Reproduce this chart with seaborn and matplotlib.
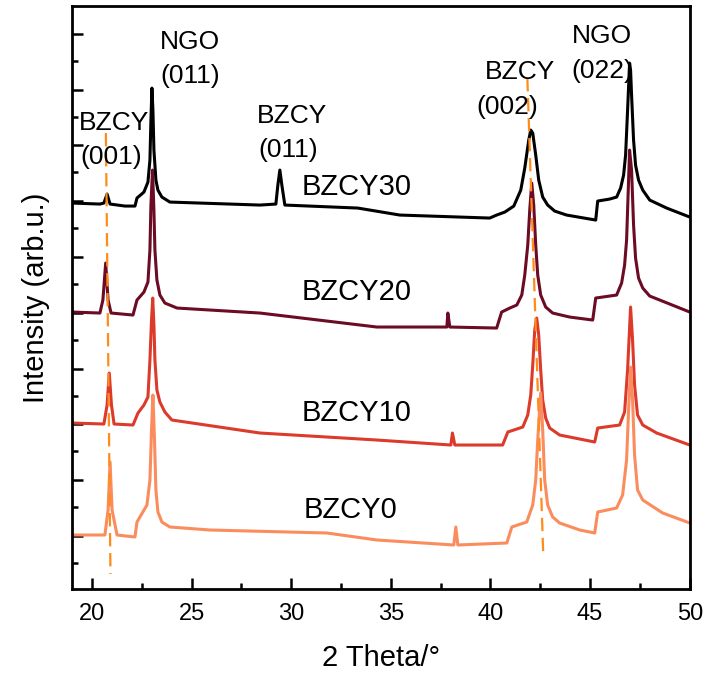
import pandas as pd
import matplotlib
matplotlib.use('Agg')
import matplotlib.pyplot as plt
import seaborn as sns
import numpy as np

# 2 theta (deg) / intensity (arb.u., already offset)
TT_30 = [19.0, 20.40, 20.60, 20.76, 20.91, 21.66, 22.16, 22.26, 22.61, 22.81,
         22.91, 22.96, 23.01, 23.06, 23.11, 23.21, 23.31, 23.51, 23.91, 28.43,
         29.23, 29.33, 29.43, 29.53, 29.68, 33.34, 35.45, 39.96, 40.31, 40.72,
         41.17, 41.52, 41.72, 41.92, 42.02, 42.12, 42.27, 42.42, 42.62, 42.87,
         43.22, 43.82, 45.28, 45.38, 45.98, 46.33, 46.53, 46.68, 46.78, 46.88,
         46.98, 47.03, 47.08, 47.18, 47.28, 47.43, 47.64, 47.99, 48.84, 50.0]
I_30 = [386, 385, 386, 395, 385, 383, 383, 391, 397, 407,
        429, 469, 501, 479, 439, 409, 399, 392, 387, 384,
        385, 404, 419, 404, 384, 381, 374, 371, 374, 377,
        383, 399, 421, 449, 459, 456, 434, 409, 392, 384,
        378, 374, 369, 388, 390, 392, 401, 414, 434, 479,
        526, 519, 494, 449, 424, 409, 399, 389, 381, 372]

TT_20 = [19.0, 20.40, 20.55, 20.69, 20.81, 20.96, 22.06, 22.26, 22.61, 22.81,
         22.91, 22.96, 23.04, 23.11, 23.16, 23.26, 23.41, 23.66, 24.27, 28.43,
         34.30, 37.81, 37.86, 37.96, 40.31, 40.56, 40.97, 41.32, 41.57, 41.72,
         41.87, 41.97, 42.07, 42.17, 42.27, 42.37, 42.52, 42.77, 43.12, 43.97,
         45.13, 45.28, 46.33, 46.58, 46.73, 46.83, 46.93, 46.98, 47.08, 47.18,
         47.28, 47.43, 47.64, 47.99, 50.0]
I_20 = [277, 276, 289, 326, 289, 276, 274, 289, 297, 307,
        339, 384, 419, 379, 339, 309, 294, 286, 281, 276,
        262, 262, 276, 262, 261, 277, 281, 284, 294, 314,
        344, 379, 406, 384, 344, 314, 294, 282, 276, 272,
        269, 291, 294, 306, 324, 349, 409, 439, 419, 364,
        331, 311, 301, 293, 277]

TT_10 = [19.0, 20.60, 20.76, 20.87, 20.98, 21.11, 22.06, 22.31, 22.61, 22.81,
         22.91, 22.99, 23.05, 23.11, 23.16, 23.26, 23.41, 23.66, 24.01, 28.43,
         34.30, 38.01, 38.09, 38.21, 40.61, 40.87, 41.62, 41.87, 42.02, 42.12,
         42.22, 42.32, 42.42, 42.52, 42.62, 42.77, 42.97, 43.47, 45.23, 45.38,
         46.48, 46.73, 46.88, 47.03, 47.13, 47.23, 47.38, 47.64, 48.34, 50.0]
I_10 = [166, 165, 184, 216, 184, 165, 164, 176, 184, 192,
        229, 269, 291, 264, 229, 199, 187, 177, 169, 156,
        149, 144, 156, 144, 144, 157, 162, 174, 194, 224,
        259, 271, 254, 219, 189, 171, 161, 154, 147, 161,
        164, 177, 219, 282, 249, 204, 174, 164, 156, 144]

TT_0 = [19.0, 20.65, 20.81, 20.91, 21.01, 21.26, 22.16, 22.26, 22.76, 22.91,
        22.99, 23.06, 23.14, 23.21, 23.31, 23.51, 23.91, 25.92, 31.79, 34.30,
        38.16, 38.26, 38.36, 40.82, 41.07, 41.82, 42.12, 42.27, 42.37, 42.52,
        42.62, 42.72, 42.87, 43.12, 43.47, 44.48, 45.23, 45.38, 46.33, 46.63,
        46.83, 46.93, 47.03, 47.13, 47.23, 47.38, 47.64, 48.64, 50.0]
I_0 = [54, 54, 79, 127, 79, 54, 52, 67, 84, 109,
       159, 194, 149, 99, 77, 67, 62, 59, 56, 49,
       44, 62, 44, 46, 62, 67, 84, 109, 149, 196,
       159, 109, 84, 72, 66, 59, 56, 77, 81, 94,
       129, 179, 222, 189, 134, 99, 89, 76, 66]

SAMPLES = ['BZCY30', 'BZCY20', 'BZCY10', 'BZCY0']
COLORS = ['#000000', '#6b0b24', '#dc3a2b', '#fa8c5e']

# guide lines for BZCY (001) and (002) shift
GUIDE_001_TT = [20.70, 20.93]
GUIDE_001_I = [456, 15]
GUIDE_002_TT = [41.85, 42.65]
GUIDE_002_I = [511, 33]


def build_frame():
    parts = []
    for name, tt, inten in zip(SAMPLES, [TT_30, TT_20, TT_10, TT_0],
                               [I_30, I_20, I_10, I_0]):
        parts.append(pd.DataFrame({'2 Theta': tt, 'Intensity': inten,
                                   'sample': name}))
    return pd.concat(parts, ignore_index=True)


def main():
    df = build_frame()
    sns.set_theme(style='ticks')
    plt.rcParams['font.family'] = ['Liberation Sans', 'DejaVu Sans']

    fig = plt.figure(figsize=(7.06, 6.77), dpi=100)
    ax = fig.add_axes([0.102, 0.130, 0.875, 0.861])

    palette = dict(zip(SAMPLES, COLORS))
    for name in SAMPLES:
        sns.lineplot(data=df[df['sample'] == name], x='2 Theta', y='Intensity',
                     color=palette[name], lw=2.2, sort=False, ax=ax,
                     legend=False)

    for tt, inten in [(GUIDE_001_TT, GUIDE_001_I), (GUIDE_002_TT, GUIDE_002_I)]:
        ax.plot(tt, inten, color='#ff8c1a', lw=1.6, dashes=(6, 3))

    ax.set_xlim(19, 50)
    ax.set_ylim(0, 583)
    ax.set_xticks(np.arange(20, 51, 5))
    ax.set_xticks(np.arange(22.5, 50, 5), minor=True)
    ax.set_yticks(np.arange(53, 583, 55.8))
    ax.set_yticks(np.arange(26, 583, 55.8), minor=True)
    ax.set_yticklabels([])
    ax.tick_params(which='both', direction='in', width=1.8, color='black')
    ax.tick_params(which='major', length=8)
    ax.tick_params(which='minor', length=4)
    ax.tick_params(axis='x', labelsize=17, pad=10, colors='black')
    for sp in ax.spines.values():
        sp.set_linewidth(2)
        sp.set_color('black')

    ax.set_xlabel('2 Theta/°', fontsize=21, labelpad=14, color='black')
    ax.set_ylabel('Intensity (arb.u.)', fontsize=21, labelpad=12,
                  color='black')

    sample_labels = [(30.5, 402, 'BZCY30'), (30.5, 297, 'BZCY20'),
                     (30.5, 176, 'BZCY10'), (30.6, 79, 'BZCY0')]
    for x, y, s in sample_labels:
        ax.text(x, y, s, fontsize=21, va='center', ha='left', color='black')

    peak_labels = [(19.35, 466, 'BZCY'), (19.40, 432, '(001)'),
                   (23.41, 547, 'NGO'), (23.41, 513, '(011)'),
                   (28.28, 473, 'BZCY'), (28.33, 439, '(011)'),
                   (39.71, 517, 'BZCY'), (39.31, 482, '(002)'),
                   (44.07, 553, 'NGO'), (44.07, 518, '(022)')]
    for x, y, s in peak_labels:
        ax.text(x, y, s, fontsize=19, va='center', ha='left', color='black')

    fig.savefig('out.png', dpi=100)


if __name__ == '__main__':
    main()
